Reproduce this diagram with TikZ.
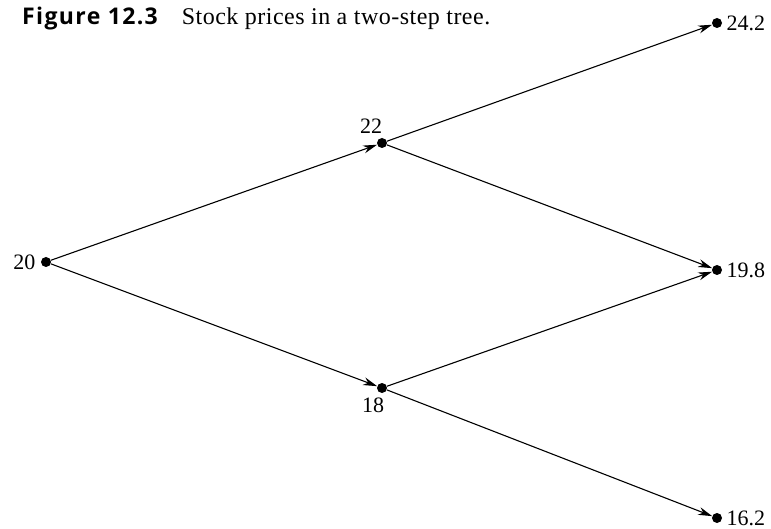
\documentclass[tikz,border=0pt]{standalone}
\usepackage{fontspec}
\setmainfont{Liberation Serif}
\newfontfamily\headfont{Open Sans}
\usetikzlibrary{arrows.meta,positioning}

\begin{document}
\begin{tikzpicture}[x=1pt, y=-1pt, font=\fontsize{22}{24}\selectfont,
    price/.style={circle, fill, inner sep=0pt, minimum size=10pt},
    move/.style={-{Stealth[length=14pt, width=8pt]}, line width=1.1pt}]
      \useasboundingbox (0,0) rectangle (771,529);
      \def\tA{46}
      \def\tB{382}
      \def\tC{717}

      % Caption
      \node[anchor=base west, inner sep=0pt] (caption) at (22,25)
        {{\headfont\bfseries\fontsize{23}{24}\selectfont\addfontfeature{LetterSpace=6}Figure 12.3}\hspace{24pt}%
         {\fontsize{24}{24}\selectfont\addfontfeature{LetterSpace=2}Stock prices in a two-step tree.}};

      % Tree nodes
      \node[price, label={[label distance=2pt]left:20}] (s0) at (\tA,262) {};
      \node[price, label={[label distance=1pt, xshift=-11pt]above:22}] (su) at (\tB,143) {};
      \node[price, label={[label distance=1pt, xshift=-9pt]below:18}] (sd) at (\tB,388) {};
      \node[price, label={[label distance=1pt]right:24.2}] (suu) at (\tC,23) {};
      \node[price, label={[label distance=1pt]right:19.8}] (sud) at (\tC,270) {};
      \node[price, label={[label distance=1pt]right:16.2}] (sdd) at (\tC,518) {};

      % Moves
      \draw[move] (s0) -- (su);
      \draw[move] (s0) -- (sd);
      \draw[move] (su) -- (suu);
      \draw[move] (su) -- (sud);
      \draw[move] (sd) -- (sud);
      \draw[move] (sd) -- (sdd);
\end{tikzpicture}
\end{document}
